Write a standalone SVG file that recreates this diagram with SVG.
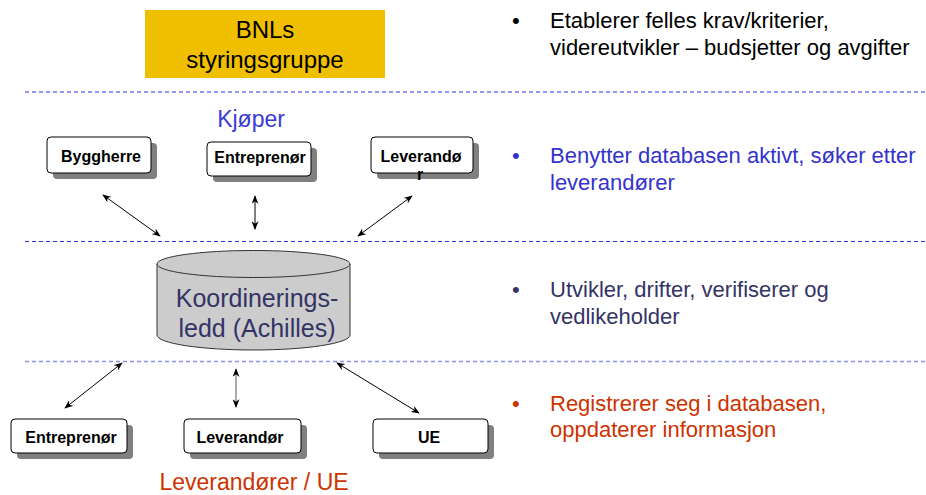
<svg xmlns="http://www.w3.org/2000/svg" width="926" height="495" viewBox="0 0 926 495">
<defs>
<style>
.sans{font-family:"Liberation Sans",Arial,sans-serif}
.box{fill:#ffffff;stroke:#000000;stroke-width:1}
.shadow{fill:#808080}
.lbl{font-family:"Liberation Sans",Arial,sans-serif;font-weight:bold;font-size:16px;fill:#000000;text-anchor:middle}
.conn{stroke:#000000;stroke-width:1;fill:none;marker-start:url(#ah);marker-end:url(#ah)}
.dash1{stroke:#3333e6;stroke-width:1.2;stroke-dasharray:4 3}
.dash2{stroke:#8c8cf0;stroke-width:1.4;stroke-dasharray:4 3}
.rt{font-family:"Liberation Sans",Arial,sans-serif;font-size:22px}
</style>
<marker id="ah" viewBox="0 0 10 8" refX="9" refY="4" markerWidth="9" markerHeight="7" markerUnits="userSpaceOnUse" orient="auto-start-reverse">
<path d="M0,0 L10,4 L0,8 L3,4 Z" fill="#000000"/>
</marker>
</defs>
<rect width="926" height="495" fill="#ffffff"/>

<g id="separators">
<line class="dash1" x1="25" y1="92" x2="926" y2="92"/>
<line class="dash1" x1="25" y1="241.5" x2="926" y2="241.5"/>
<line class="dash2" x1="25" y1="361.5" x2="926" y2="361.5"/>
</g>

<g id="styringsgruppe">
<rect x="145" y="10" width="240" height="68" fill="#f0c000"/>
<text class="sans" x="265" y="38" font-size="24" text-anchor="middle" fill="#000">BNLs</text>
<text class="sans" x="265" y="68" font-size="24" text-anchor="middle" fill="#000">styringsgruppe</text>
</g>

<text class="sans" x="251" y="127" font-size="23" text-anchor="middle" fill="#3a3ad6">Kjøper</text>

<g id="byggherre">
<rect class="shadow" x="53" y="143" width="104" height="36" rx="4"/>
<rect class="box" x="47" y="137" width="104" height="36" rx="4"/>
<text class="lbl" x="101" y="162">Byggherre</text>
</g>
<g id="entreprenor-top">
<rect class="shadow" x="213" y="148" width="104" height="34" rx="4"/>
<rect class="box" x="207" y="142" width="104" height="34" rx="4"/>
<text class="lbl" x="260" y="163">Entreprenør</text>
</g>
<g id="leverandor-top">
<rect class="shadow" x="377" y="143" width="102" height="36" rx="4"/>
<rect class="box" x="371" y="137" width="102" height="36" rx="4"/>
<text class="lbl" x="421" y="162">Leverandø</text>
<text class="lbl" x="420" y="180">r</text>
</g>

<g id="achilles">
<path d="M157,264 L157,335 A96.5,15 0 0 0 350,335 L350,264 Z" fill="#cccccc" stroke="#333333" stroke-width="1"/>
<ellipse cx="253.5" cy="264" rx="96.5" ry="13.5" fill="#cccccc" stroke="#333333" stroke-width="1"/>
<text class="sans" x="257" y="307" font-size="25" text-anchor="middle" fill="#333366">Koordinerings-</text>
<text class="sans" x="257" y="337" font-size="25" text-anchor="middle" fill="#333366">ledd (Achilles)</text>
</g>

<g id="entreprenor-bottom">
<rect class="shadow" x="17" y="425" width="116" height="34" rx="4"/>
<rect class="box" x="11" y="419" width="116" height="34" rx="4"/>
<text class="lbl" x="71" y="443">Entreprenør</text>
</g>
<g id="leverandor-bottom">
<rect class="shadow" x="190" y="425" width="117" height="34" rx="4"/>
<rect class="box" x="184" y="419" width="117" height="34" rx="4"/>
<text class="lbl" x="240" y="443">Leverandør</text>
</g>
<g id="ue">
<rect class="shadow" x="379" y="425" width="115" height="34" rx="4"/>
<rect class="box" x="373" y="419" width="115" height="34" rx="4"/>
<text class="lbl" x="429" y="443">UE</text>
</g>

<text class="sans" x="254" y="490" font-size="23" text-anchor="middle" fill="#cc3300">Leverandører / UE</text>

<g id="connectors">
<line class="conn" x1="103" y1="195" x2="160" y2="236"/>
<line class="conn" x1="255" y1="196" x2="255" y2="229"/>
<line class="conn" x1="412" y1="196" x2="358" y2="236"/>
<line class="conn" x1="122" y1="363" x2="65" y2="408"/>
<line class="conn" x1="236" y1="369" x2="236" y2="407" style="stroke:#555555"/>
<line class="conn" x1="337" y1="363" x2="419" y2="413"/>
</g>

<g id="notes">
<text class="rt" x="512" y="28" fill="#000000">•</text>
<text class="rt" x="550" y="28" fill="#000000">Etablerer felles krav/kriterier,</text>
<text class="rt" x="550" y="55" fill="#000000">videreutvikler – budsjetter og avgifter</text>
<text class="rt" x="512" y="163" fill="#3333cc">•</text>
<text class="rt" x="550" y="163" fill="#3333cc">Benytter databasen aktivt, søker etter</text>
<text class="rt" x="550" y="190" fill="#3333cc">leverandører</text>
<text class="rt" x="512" y="297" fill="#333366">•</text>
<text class="rt" x="550" y="297" fill="#333366">Utvikler, drifter, verifiserer og</text>
<text class="rt" x="550" y="324" fill="#333366">vedlikeholder</text>
<text class="rt" x="512" y="411" fill="#cc3300">•</text>
<text class="rt" x="550" y="411" fill="#cc3300">Registrerer seg i databasen,</text>
<text class="rt" x="550" y="437" fill="#cc3300">oppdaterer informasjon</text>
</g>
</svg>
